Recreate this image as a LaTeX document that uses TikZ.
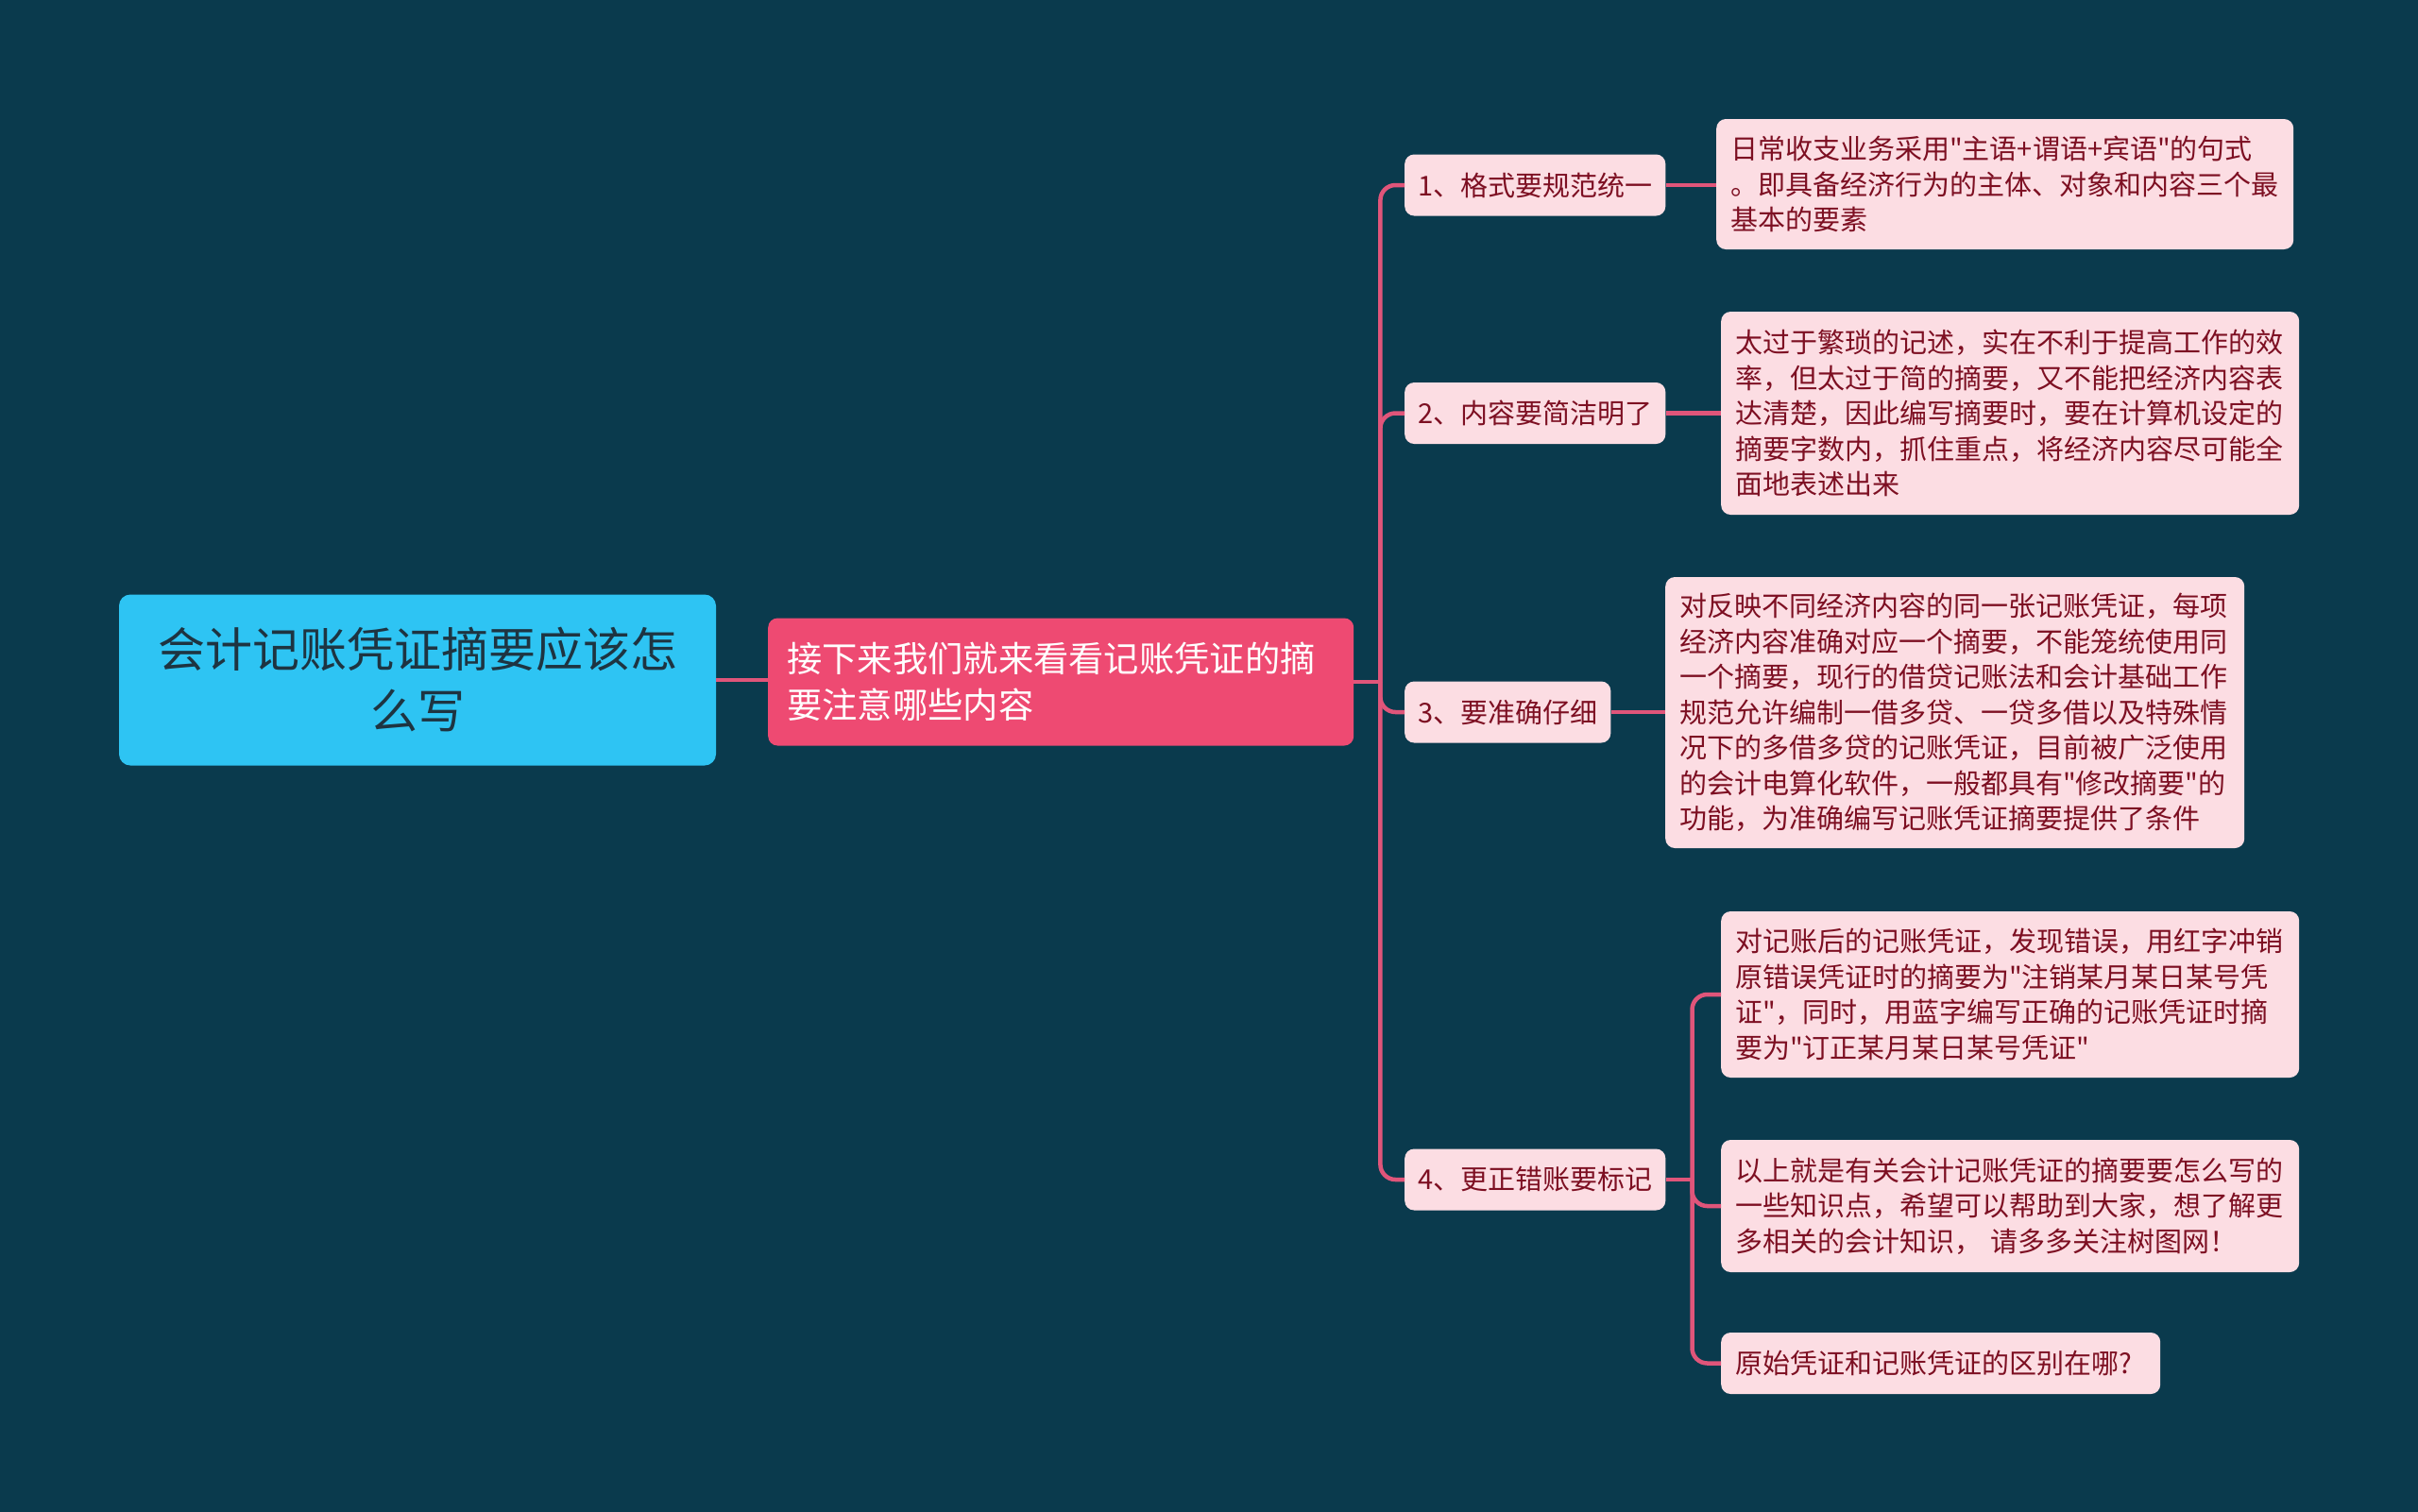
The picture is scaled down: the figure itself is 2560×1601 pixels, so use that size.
\documentclass[tikz,border=0pt]{standalone}
\usepackage{fontspec}
\setmainfont{Noto Sans CJK SC}[Ligatures=TeXOff]
\definecolor{bgc}{HTML}{0A3A4D}
\definecolor{rootc}{HTML}{2EC4F3}
\definecolor{roottext}{HTML}{1E3441}
\definecolor{mainc}{HTML}{EE4A72}
\definecolor{linec}{HTML}{E0557A}
\definecolor{leafc}{HTML}{FCDDE3}
\definecolor{leaftext}{HTML}{7D0F22}
\begin{document}
\begin{tikzpicture}[x=1pt,y=-1pt,
  conn/.style={draw=linec, line width=4.5pt},
  rootbox/.style={fill=rootc, rounded corners=12pt, text=roottext,
    font=\fontsize{50}{65}\selectfont, align=center, inner sep=0pt,
    minimum width=632pt, minimum height=181pt},
  mainbox/.style={fill=mainc, rounded corners=10pt, text=white,
    font=\fontsize{37.3}{49}\selectfont, align=left, text width=580pt,
    inner xsep=20pt, inner ysep=0pt, minimum height=135pt, anchor=west},
  branchbox/.style={fill=leafc, rounded corners=10pt, text=leaftext,
    font=\fontsize{29}{37.5}\selectfont, inner xsep=14pt, inner ysep=0pt,
    minimum height=65pt, anchor=west},
  leafbox/.style={fill=leafc, rounded corners=10pt, text=leaftext,
    font=\fontsize{29}{37.5}\selectfont, align=left, inner xsep=15pt,
    inner ysep=0pt, anchor=west},
  rc/.style={rounded corners=16pt}
]
\fill[bgc] (0,0) rectangle (2560,1601);
\useasboundingbox (0,0) rectangle (2560,1601);

\node[rootbox] (root) at (442,720) {会计记账凭证摘要应该怎\\么写};
\node[mainbox] (main) at (813,722) {接下来我们就来看看记账凭证的摘\\要注意哪些内容};

\node[branchbox] (b1) at (1487,196) {1、格式要规范统一};
\node[branchbox] (b2) at (1487,437.5) {2、内容要简洁明了};
\node[branchbox] (b3) at (1487,754) {3、要准确仔细};
\node[branchbox] (b4) at (1487,1249) {4、更正错账要标记};

\node[leafbox, text width=581pt, minimum height=138pt] (l1) at (1817,195)
  {日常收支业务采用"主语+谓语+宾语"的句式\\。即具备经济行为的主体、对象和内容三个最\\基本的要素};
\node[leafbox, text width=582pt, minimum height=215pt] (l2) at (1822,437.5)
  {太过于繁琐的记述，实在不利于提高工作的效\\率，但太过于简的摘要，又不能把经济内容表\\达清楚，因此编写摘要时，要在计算机设定的\\摘要字数内，抓住重点，将经济内容尽可能全\\面地表述出来};
\node[leafbox, text width=583pt, minimum height=287pt] (l3) at (1763,754.5)
  {对反映不同经济内容的同一张记账凭证，每项\\经济内容准确对应一个摘要，不能笼统使用同\\一个摘要，现行的借贷记账法和会计基础工作\\规范允许编制一借多贷、一贷多借以及特殊情\\况下的多借多贷的记账凭证，目前被广泛使用\\的会计电算化软件，一般都具有"修改摘要"的\\功能，为准确编写记账凭证摘要提供了条件};
\node[leafbox, text width=582pt, minimum height=176pt] (l4a) at (1822,1053)
  {对记账后的记账凭证，发现错误，用红字冲销\\原错误凭证时的摘要为"注销某月某日某号凭\\证"，同时，用蓝字编写正确的记账凭证时摘\\要为"订正某月某日某号凭证"};
\node[leafbox, text width=582pt, minimum height=140pt] (l4b) at (1822,1277)
  {以上就是有关会计记账凭证的摘要要怎么写的\\一些知识点，希望可以帮助到大家，想了解更\\多相关的会计知识， 请多多关注树图网！};
\node[leafbox, text width=435pt, minimum height=65pt] (l4c) at (1822,1443.5)
  {原始凭证和记账凭证的区别在哪?};

% connectors
\draw[conn] (root.east) -- (main.west |- root.east);
\coordinate (tr) at ([xshift=28pt]main.east);
\draw[conn] (main.east) -- (tr);
\draw[conn, rc] (tr) |- (b1.west);
\draw[conn, rc] (tr) |- (b2.west);
\draw[conn, rc] (tr) |- (b3.west);
\draw[conn, rc] (tr) |- (b4.west);

\draw[conn] (b1.east) -- (b1.east -| l1.west);
\draw[conn] (b2.east) -- (b2.east -| l2.west);
\draw[conn] (b3.east) -- (b3.east -| l3.west);

\coordinate (st) at ([xshift=28pt]b4.east);
\draw[conn] (b4.east) -- (st);
\draw[conn, rc] (st) |- (l4a.west);
\draw[conn, rc] (st) |- (l4b.west);
\draw[conn, rc] (st) |- (l4c.west);
\end{tikzpicture}
\end{document}
